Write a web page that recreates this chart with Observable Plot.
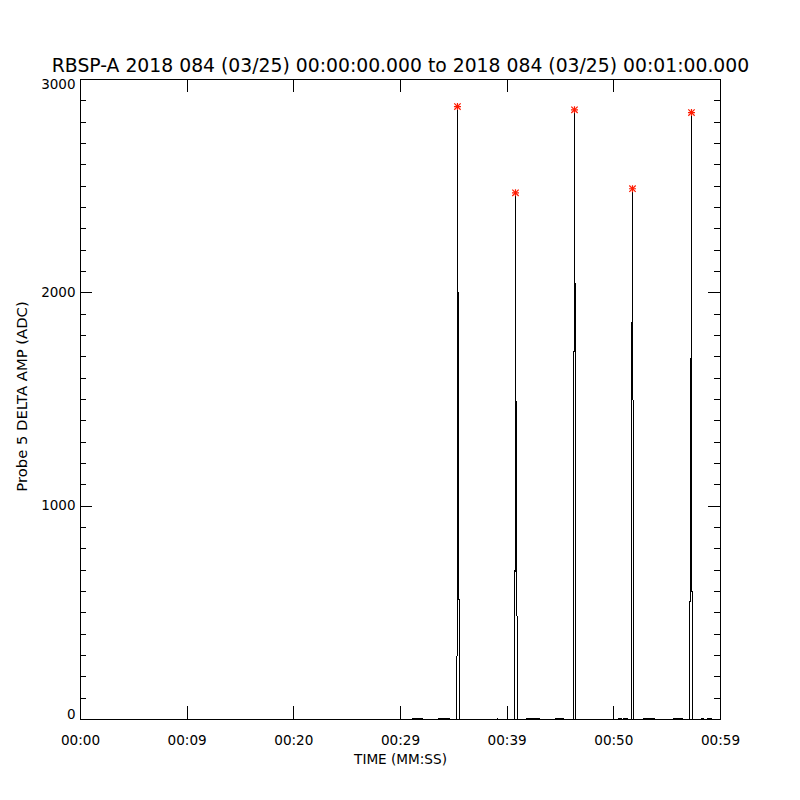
<!DOCTYPE html>
<html><head><meta charset="utf-8">
<script src="https://cdn.jsdelivr.net/npm/d3@7"></script>
<script src="https://cdn.jsdelivr.net/npm/@observablehq/plot@0.6"></script>
<style>html,body{margin:0;padding:0;background:#fff}</style>
</head><body><div id="chart"></div>
<script>
const titleText = "RBSP-A 2018 084 (03/25) 00:00:00.000 to 2018 084 (03/25) 00:01:00.000";
const xLabel = "TIME (MM:SS)";
const yLabel = "Probe 5 DELTA AMP (ADC)";

const xTickValues = [0, 10, 20, 30, 40, 50, 60];
const xTickLabels = ["00:00", "00:09", "00:20", "00:29", "00:39", "00:50", "00:59"];
const yTickValues = [0, 1000, 2000, 3000];
const yTickLabels = ["0", "1000", "2000", "3000"];
const yMinorStep = 100;

// time series (seconds after 00:00:00, ADC)
const times = [
  0, 31.12, 31.12, 32.06, 32.06,
  33.56, 33.56, 34.59, 34.59,
  35.24, 35.25, 35.33, 35.34, 35.35, 35.36, 35.43, 35.44, 35.52, 35.54,
  39.09, 39.09, 39.10, 39.10,
  40.68, 40.69, 40.77, 40.78, 40.79, 40.80, 40.87, 40.88, 40.96, 40.98,
  41.81, 41.81, 43.03, 43.03,
  44.53, 44.53, 45.28, 45.28,
  46.21, 46.22, 46.30, 46.31, 46.32, 46.33, 46.40, 46.41, 46.42,
  50.44, 50.44, 50.72, 50.72,
  50.91, 50.91, 51.28, 51.28,
  51.65, 51.66, 51.74, 51.75, 51.76, 51.83, 51.84,
  52.78, 52.78, 53.81, 53.81,
  55.59, 55.59, 56.44, 56.44,
  57.09, 57.10, 57.18, 57.19, 57.27, 57.28, 57.29, 57.37, 57.38,
  58.22, 58.22, 58.41, 58.41,
  58.78, 58.78, 59.16, 59.16,
  60
];
const amps = [
  0, 0, 5, 5, 0,
  0, 5, 5, 0,
  0, 290, 300, 2873, 2007, 565, 2000, 565, 560, 0,
  0, 5, 5, 0,
  0, 695, 700, 2469, 1495, 695, 1490, 695, 296, 0,
  0, 5, 5, 0,
  0, 5, 5, 0,
  0, 1720, 1730, 2858, 2050, 1725, 2045, 1720, 0,
  0, 5, 5, 0,
  0, 5, 5, 0,
  0, 1860, 1860, 2488, 1500, 1495, 0,
  0, 5, 5, 0,
  0, 5, 5, 0,
  0, 500, 600, 1690, 1690, 2845, 600, 600, 0,
  0, 5, 5, 0,
  0, 5, 5, 0,
  0
];
const peakTimes = [35.34, 40.78, 46.31, 51.75, 57.28];
const peakAmps = [2873, 2469, 2858, 2488, 2845];

const series = times.map((t, i) => ({t, v: amps[i]}));
const peaks = peakTimes.map((t, i) => ({t, v: peakAmps[i]}));
const yMinor = d3.range(0, 3001, yMinorStep).filter(v => !yTickValues.includes(v));
const yLabelOf = v => yTickLabels[yTickValues.indexOf(v)];
const xLabelOf = v => xTickLabels[xTickValues.indexOf(v)];

const crisp = {shapeRendering: "crispEdges", stroke: "black", strokeWidth: 1};
const txt = {fill: "black", lineAnchor: "middle"};

const chart = Plot.plot({
  width: 800,
  height: 800,
  marginTop: 79,
  marginBottom: 81,
  marginLeft: 80,
  marginRight: 80,
  style: {fontFamily: "'DejaVu Sans', sans-serif", fontSize: "13px", background: "white", color: "black"},
  x: {domain: [0, 60], axis: null},
  y: {domain: [0, 3000], axis: null},
  marks: [
    Plot.frame({...crisp}),
    // x ticks bottom & top (inward)
    Plot.tickX(xTickValues, {x: d => d, insetTop: 627, ...crisp}),
    Plot.tickX(xTickValues, {x: d => d, insetBottom: 627, ...crisp}),
    // y major ticks left & right
    Plot.tickY(yTickValues, {y: d => d, insetRight: 628, ...crisp}),
    Plot.tickY(yTickValues, {y: d => d, insetLeft: 628, ...crisp}),
    // y minor ticks
    Plot.tickY(yMinor, {y: d => d, insetRight: 634, ...crisp}),
    Plot.tickY(yMinor, {y: d => d, insetLeft: 634, ...crisp}),
    // data
    Plot.line(series, {x: "t", y: "v", ...crisp}),
    Plot.dot(peaks, {x: "t", y: "v", symbol: "plus", r: 2.4, stroke: "#ff1a00", strokeWidth: 1.2}),
    Plot.dot(peaks, {x: "t", y: "v", symbol: "times", r: 3, stroke: "#ff1a00", strokeWidth: 1.2}),
    // x tick labels
    Plot.text(xTickValues, {x: d => d, frameAnchor: "bottom", dy: 21, text: xLabelOf, fontSize: 13.6, ...txt}),
    // y tick labels
    Plot.text(yTickValues.filter(v => v !== 0 && v !== 3000), {y: d => d, frameAnchor: "left", dx: -5, textAnchor: "end", text: yLabelOf, fontSize: 13.5, ...txt}),
    Plot.text([0], {y: d => d, frameAnchor: "left", dx: -5, dy: -5, textAnchor: "end", text: yLabelOf, fontSize: 13.5, ...txt}),
    Plot.text([3000], {y: d => d, frameAnchor: "left", dx: -5, dy: 5, textAnchor: "end", text: yLabelOf, fontSize: 13.5, ...txt}),
    // axis titles
    Plot.text([xLabel], {frameAnchor: "bottom", dy: 40, text: d => d, fontSize: 13.6, ...txt}),
    Plot.text([yLabel], {frameAnchor: "left", dx: -58, dy: -3, rotate: -90, textAnchor: "middle", text: d => d, fontSize: 14.8, ...txt}),
    // title
    Plot.text([titleText], {frameAnchor: "top", dy: -14, text: d => d, fontSize: 18.8, ...txt})
  ]
});
document.getElementById("chart").append(chart);
</script>
</body></html>
